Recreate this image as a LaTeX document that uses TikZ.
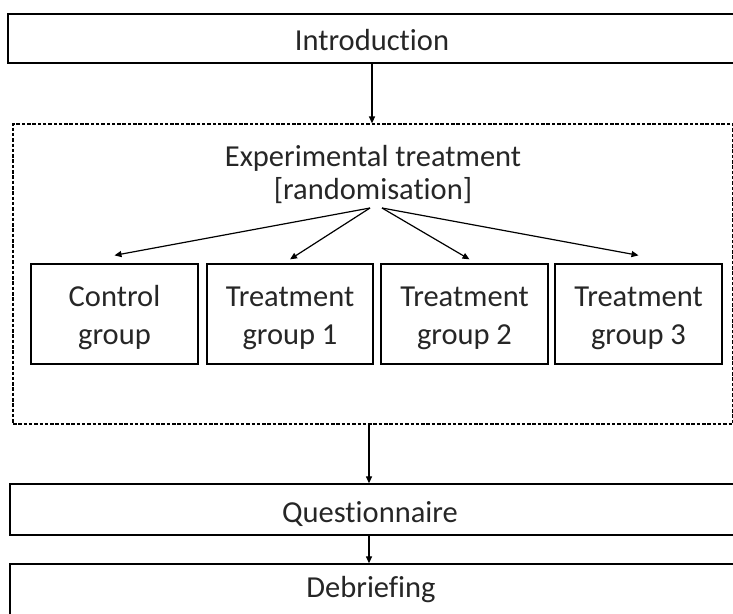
\documentclass[tikz,border=0pt]{standalone}
\usepackage{fontspec}
\setmainfont{Carlito}[Ligatures={NoCommon}]
\usetikzlibrary{arrows.meta}
\begin{document}
\begin{tikzpicture}[x=1pt,y=-1pt,
  txt/.style={font=\fontsize{30.5}{38}\selectfont, text=black!85},
  box/.style={draw, line width=1.3pt, inner sep=0pt, align=center, txt},
  dbox/.style={draw, line width=1.2pt, dash pattern=on 3.5pt off 1.8pt, inner sep=0pt},
  arr/.style={-{Triangle[length=7pt,width=6pt]}, line width=1.2pt}]
\useasboundingbox (0,0) rectangle (733,613);
\fill[white] (0,0) rectangle (733,613);
\clip (0,0) rectangle (733,613);
% main boxes
\node[box, minimum width=728pt, minimum height=49pt, text height=24pt, text depth=1pt] (intro) at (372,38.5) {Introduction};
\node[dbox, minimum width=720pt, minimum height=300pt] (exp) at (373,274) {};
\node[txt, align=center, inner sep=0pt, font=\fontsize{30.5}{33}\selectfont] (exptxt) at (373,174.5) {Experimental treatment\\{}[randomisation]};
\coordinate (sL) at (370,208);
\coordinate (sR) at (382,208);
% groups
\node[box, minimum width=167pt, minimum height=100pt] (ctrl) at (114.5,314) {\rule{0pt}{29pt}Control\\group};
\node[box, minimum width=166pt, minimum height=100pt] (t1) at (290,314) {\rule{0pt}{29pt}Treatment\\group 1};
\node[box, minimum width=167pt, minimum height=100pt] (t2) at (464.5,314) {\rule{0pt}{29pt}Treatment\\group 2};
\node[box, minimum width=167pt, minimum height=100pt] (t3) at (638.5,314) {\rule{0pt}{29pt}Treatment\\group 3};
% lower boxes
\node[box, minimum width=726pt, minimum height=51pt, text height=26pt, text depth=1pt] (quest) at (373,509.5) {\hspace*{-6pt}Questionnaire};
\node[box, minimum width=726pt, minimum height=52pt, text height=16pt, text depth=2pt] (debr) at (373,590) {\hspace*{-4pt}Debriefing};
% connectors
\draw[arr] (intro.south) -- (intro.south |- exp.north);
\draw[arr] (sL) -- ([yshift=8pt]ctrl.north);
\draw[arr] (sL) -- ([yshift=4pt]t1.north);
\draw[arr] (sR) -- ([xshift=5pt,yshift=4pt]t2.north);
\draw[arr] (sR) -- ([yshift=8pt]t3.north);
\draw[arr] ([xshift=-4pt]exp.south) -- ([xshift=-4pt]exp.south |- quest.north);
\draw[arr] ([xshift=-4pt]quest.south) -- ([xshift=-4pt]quest.south |- debr.north);
\end{tikzpicture}
\end{document}
